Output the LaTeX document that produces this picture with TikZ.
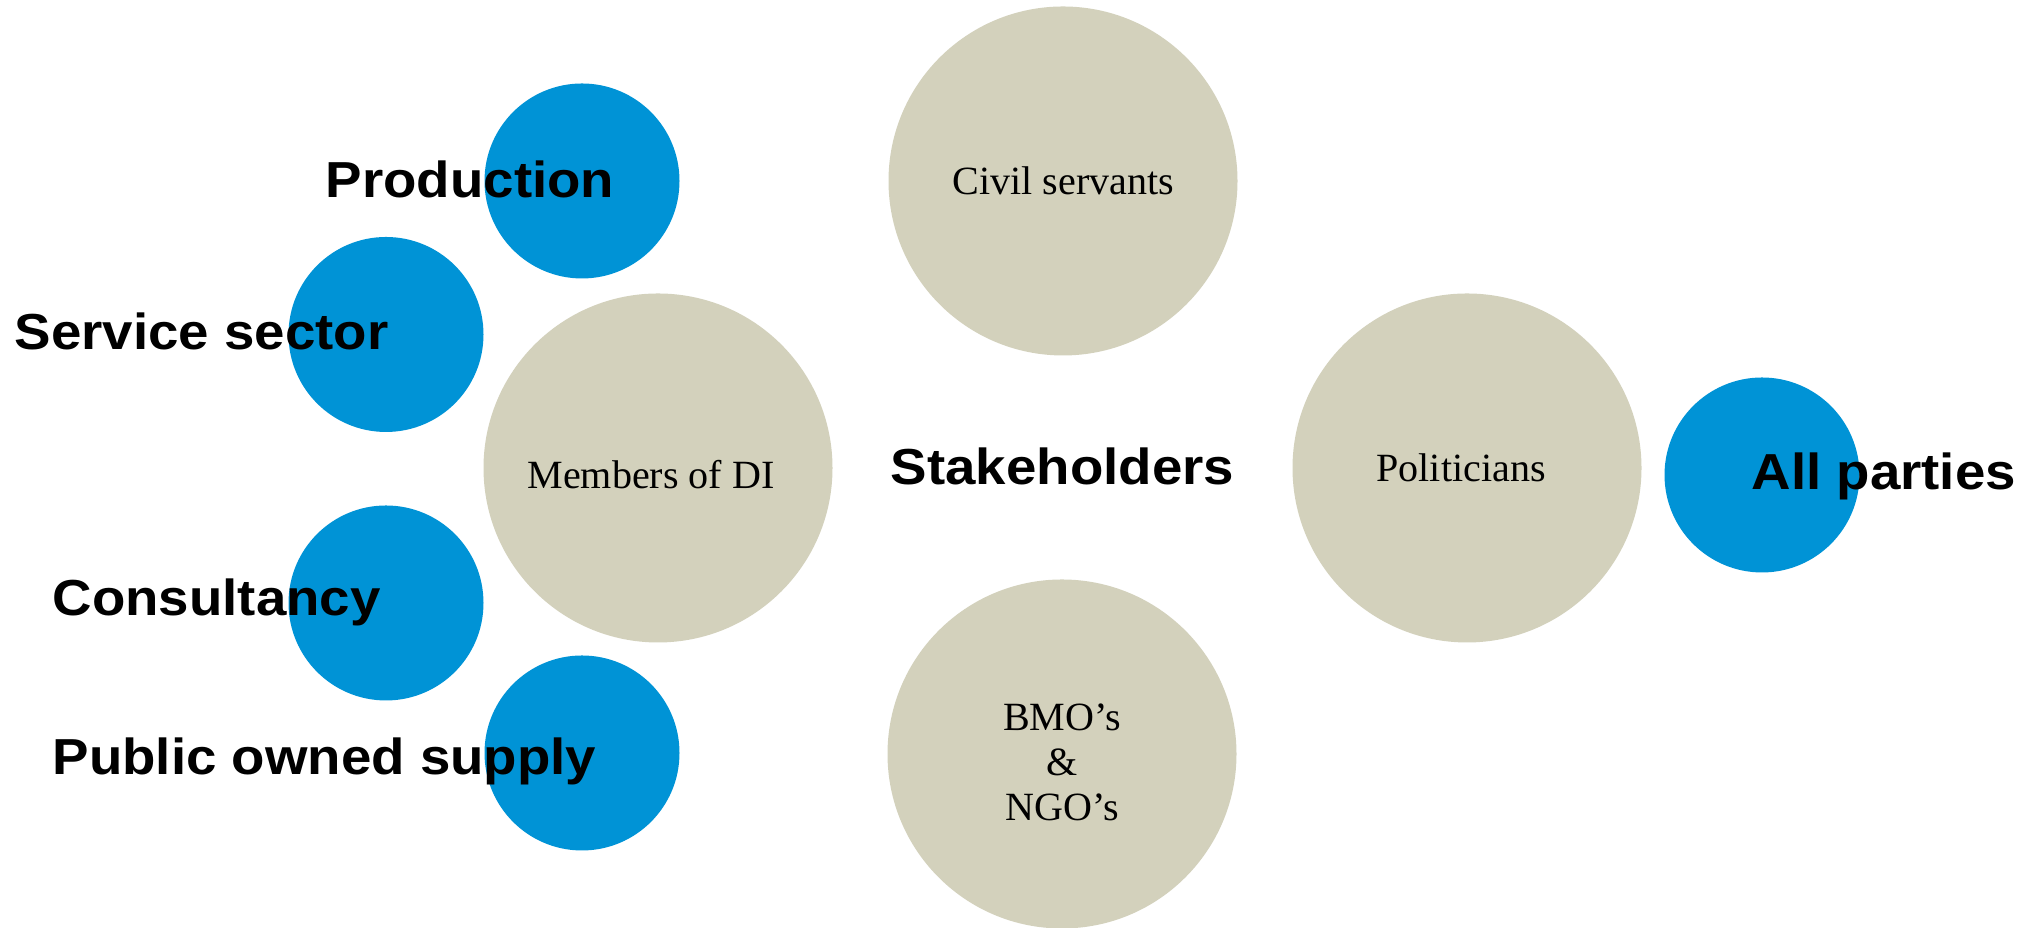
\documentclass[tikz,border=0pt]{standalone}
\usepackage{fontspec}
\setmainfont{Liberation Serif}
\newfontfamily\headfont[FakeStretch=1.08]{Liberation Sans}
\definecolor{discblue}{RGB}{0,147,214}
\definecolor{disctan}{RGB}{211,209,188}

\begin{document}
\begin{tikzpicture}[
    smalldisc/.style={circle, fill=discblue, minimum size=1.95cm, inner sep=0pt},
    bigdisc/.style={circle, fill=disctan, minimum size=3.49cm, inner sep=0pt},
    boldlabel/.style={inner sep=0pt, font=\headfont\bfseries\fontsize{14.4}{17}\selectfont},
    plainlabel/.style={inner sep=0pt, font=\fontsize{11.4}{12.8}\selectfont}
]
    \useasboundingbox (0,0) rectangle (20.38,9.28);

    % grey circles: the stakeholder groups
    \node[bigdisc] (members) at (6.58,4.60) {};
    \node[bigdisc] (civil)   at (10.63,7.47) {};
    \node[bigdisc] (bmo)     at (10.62,1.74) {};
    \node[bigdisc] (polit)   at (14.67,4.60) {};

    % blue circles: sub groups
    \node[smalldisc] (prod) at (5.82,7.47) {};
    \node[smalldisc] (serv) at (3.86,5.935) {};
    \node[smalldisc] (cons) at (3.86,3.25) {};
    \node[smalldisc] (pubs) at (5.82,1.75) {};
    \node[smalldisc] (allp) at (17.62,4.53) {};

    % texts in the grey circles
    \node[plainlabel, anchor=base] (memberstext) at (6.51,4.39) {Members of DI};
    \node[plainlabel, anchor=base] (civiltext)   at (10.635,7.33) {Civil servants};
    \node[plainlabel, anchor=base] (polittext)   at (14.61,4.46) {Politicians};
    \node[plainlabel, align=center] (bmotext)    at (10.62,1.66) {BMO’s\\\&\\NGO’s};

    % bold labels
    \node[boldlabel, anchor=base] (centre) at (10.625,4.43) {Stakeholders};
    \node[boldlabel, anchor=base west] (prodtext) at (3.25,7.30) {Production};
    \node[boldlabel, anchor=base west] (servtext) at (0.14,5.78) {Service sector};
    \node[boldlabel, anchor=base west] (constext) at (0.52,3.12) {Consultancy};
    \node[boldlabel, anchor=base west] (pubstext) at (0.52,1.53) {Public owned supply};
    \node[boldlabel, anchor=base west] (allptext) at (17.51,4.38) {All parties};
\end{tikzpicture}
\end{document}
